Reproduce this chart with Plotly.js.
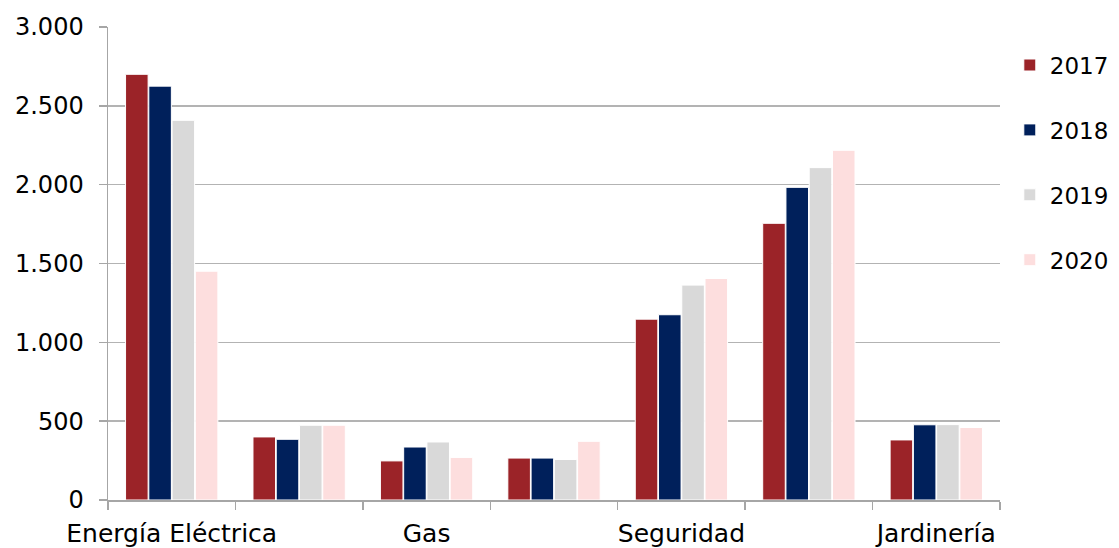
<!DOCTYPE html>
<html>
<head>
<meta charset="utf-8">
<script src="https://cdn.plot.ly/plotly-3.0.1.min.js"></script>
<style>html,body{margin:0;padding:0;background:#fff;}#chart{width:1119px;height:548px;}</style>
</head>
<body>
<div id="chart"></div>
<script>
// Categories (labels shown on every other category in the reference)
var categories = ["Energía Eléctrica", "Cat. 2", "Gas", "Cat. 4", "Seguridad", "Cat. 6", "Jardinería"];
var tickLabels = ["Energía Eléctrica", "", "Gas", "", "Seguridad", "", "Jardinería"];
var years = ["2017", "2018", "2019", "2020"];
var v2017 = [2700, 400, 248, 266, 1147, 1755, 381];
var v2018 = [2625, 385, 336, 266, 1175, 1983, 477];
var v2019 = [2408, 474, 368, 257, 1363, 2108, 478];
var v2020 = [1451, 474, 270, 372, 1405, 2218, 460];
var yTicks = [0, 500, 1000, 1500, 2000, 2500, 3000];

var colors = ["#9B2328", "#00205B", "#D9D9D9", "#FDDEDE"];
var series = [v2017, v2018, v2019, v2020];
var FONT = "DejaVu Sans, Noto Sans, sans-serif";

var traces = series.map(function (vals, i) {
  return {
    type: "bar",
    name: years[i],
    x: categories,
    y: vals,
    legendgroup: "g" + i,
    marker: { color: colors[i], line: { color: "#ffffff", width: 1 } },
    hoverinfo: "x+y+name"
  };
});

var layout = {
  width: 1119,
  height: 548,
  margin: { l: 108, r: 119, t: 27, b: 48, autoexpand: false },
  paper_bgcolor: "#ffffff",
  plot_bgcolor: "#ffffff",
  separators: ",.",
  barmode: "group",
  bargap: 0.27,
  bargroupgap: 0.03,
  font: { family: FONT, size: 24, color: "#000000" },
  showlegend: true,
  legend: {
    x: 1.011,
    xanchor: "left",
    y: 0.965,
    yanchor: "top",
    tracegroupgap: 32,
    font: { family: FONT, size: 23, color: "#000000" },
    bgcolor: "rgba(0,0,0,0)"
  },
  xaxis: {
    type: "category",
    tickvals: categories,
    ticktext: tickLabels,
    tickson: "boundaries",
    ticks: "outside",
    ticklen: 8,
    tickcolor: "#A6A6A6",
    tickwidth: 1.5,
    ticklabelstandoff: 10,
    showline: true,
    linecolor: "#A6A6A6",
    linewidth: 1.5,
    showgrid: false,
    zeroline: false,
    tickangle: 0,
    tickfont: { family: FONT, size: 25, color: "#000000" }
  },
  yaxis: {
    range: [0, 3000],
    tickvals: yTicks,
    tickformat: ",.0f",
    ticks: "outside",
    ticklen: 8,
    tickcolor: "#A6A6A6",
    tickwidth: 1.5,
    ticklabelstandoff: 10,
    showline: true,
    linecolor: "#A6A6A6",
    linewidth: 1.5,
    showgrid: true,
    gridcolor: "#B3B3B3",
    gridwidth: 1.5,
    zeroline: false,
    tickfont: { family: FONT, size: 24, color: "#000000" }
  }
};

Plotly.newPlot("chart", traces, layout, { displayModeBar: false, staticPlot: true });
</script>
</body>
</html>
